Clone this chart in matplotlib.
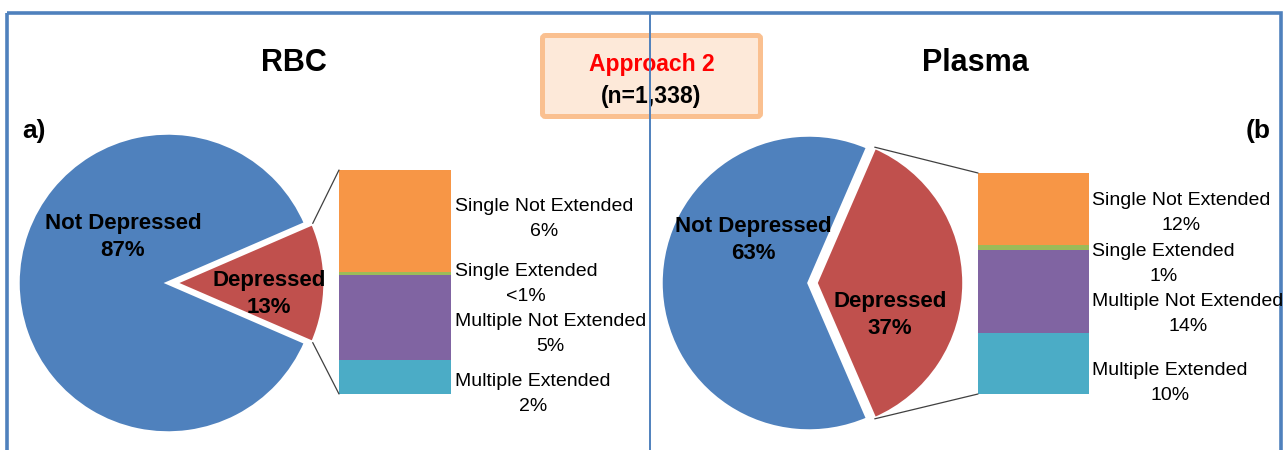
import math
import matplotlib
matplotlib.use("Agg")
import matplotlib.pyplot as plt
from matplotlib.patches import Rectangle, FancyBboxPatch, ConnectionPatch

plt.rcParams['font.family'] = ['Liberation Sans', 'DejaVu Sans']

W, H = 1287, 450

# ---------------- data ----------------
titles = ["RBC", "Plasma"]
panel_tags = ["a)", "(b"]
pie_labels = ["Depressed", "Not Depressed"]
rbc_pie = [13, 87]
plasma_pie = [37, 63]
pie_text_rbc = ["13%", "87%"]
pie_text_plasma = ["37%", "63%"]
sub_labels = ["Single Not Extended", "Single Extended",
              "Multiple Not Extended", "Multiple Extended"]
rbc_sub = [5.9, 0.2, 4.9, 2.0]
plasma_sub = [12.1, 0.8, 13.9, 10.2]
rbc_sub_text = ["6%", "<1%", "5%", "2%"]
plasma_sub_text = ["12%", "1%", "14%", "10%"]
box_title = "Approach 2"
box_sub = "(n=1,338)"

# ---------------- styles ----------------
BLUE = '#4F81BD'
RED = '#C0504D'
sub_colors = ['#F79646', '#9BBB59', '#8064A2', '#4BACC6']

# layout (pixels from top-left)
panels = [
    dict(title=titles[0], tag=panel_tags[0], pie=rbc_pie, pie_text=pie_text_rbc,
         sub=rbc_sub, sub_text=rbc_sub_text,
         center=(168, 283), R=150, bar=(339, 170, 112, 224),
         title_xy=(294, 63), tag_xy=(34, 131), tag_ha='center',
         pie_lab_xy=[(269, 294), (123, 237)],
         sub_lab_x=455, sub_lab_y=[219, 284, 334, 394]),
    dict(title=titles[1], tag=panel_tags[1], pie=plasma_pie, pie_text=pie_text_plasma,
         sub=plasma_sub, sub_text=plasma_sub_text,
         center=(809, 283), R=148, bar=(978, 173, 111, 221),
         title_xy=(975, 63), tag_xy=(1258, 131), tag_ha='center',
         pie_lab_xy=[(890, 315), (753, 240)],
         sub_lab_x=1092, sub_lab_y=[213, 264, 314, 383]),
]

fig = plt.figure(figsize=(W / 100, H / 100), dpi=100)
canvas = fig.add_axes([0, 0, 1, 1])
canvas.set_xlim(0, W)
canvas.set_ylim(H, 0)
canvas.axis('off')


def px_axes(left, top, width, height):
    return fig.add_axes([left / W, 1 - (top + height) / H, width / W, height / H])


# outer frame
canvas.add_patch(Rectangle((7, 13), 1274, 500, fill=False, edgecolor=BLUE,
                           linewidth=2.6, zorder=1))

for p in panels:
    cx, cy = p['center']
    R = p['R']
    pad = 1.15
    pax = px_axes(cx - R * pad, cy - R * pad, 2 * R * pad, 2 * R * pad)
    vals = p['pie']
    wedges, _ = pax.pie(vals, colors=[RED, BLUE], explode=[0.047, 0],
                        startangle=-vals[0] / sum(vals) * 180, counterclock=True,
                        radius=1, wedgeprops=dict(edgecolor='white', linewidth=2.5))
    pax.set_xlim(-pad, pad)
    pax.set_ylim(-pad, pad)
    pax.axis('off')

    bl, bt, bw, bh = p['bar']
    bax = px_axes(bl, bt, bw, bh)
    sub = p['sub']
    total = sum(sub)
    top = total
    for v, c in zip(sub, sub_colors):
        bax.bar(0.5, v, width=1, bottom=top - v, color=c, linewidth=0)
        top -= v
    bax.set_xlim(0, 1)
    bax.set_ylim(0, total)
    bax.axis('off')

    # connector lines
    w = wedges[0]
    wc = w.center
    for ang, ybar in [(w.theta2, total), (w.theta1, 0)]:
        x = wc[0] + w.r * math.cos(math.radians(ang))
        y = wc[1] + w.r * math.sin(math.radians(ang))
        con = ConnectionPatch(xyA=(0, ybar), coordsA=bax.transData,
                              xyB=(x, y), coordsB=pax.transData,
                              color='#404040', linewidth=0.9)
        con.set_clip_on(False)
        fig.add_artist(con)

# overlay for all text
over = fig.add_axes([0, 0, 1, 1])
over.set_xlim(0, W)
over.set_ylim(H, 0)
over.axis('off')
over.patch.set_alpha(0)

for p in panels:
    over.text(*p['title_xy'], p['title'], ha='center', va='center',
              fontsize=22, fontweight='bold')
    over.text(*p['tag_xy'], p['tag'], ha=p['tag_ha'], va='center',
              fontsize=19, fontweight='bold')
    for (lx, ly), lab, pct in zip(p['pie_lab_xy'], pie_labels, p['pie_text']):
        over.text(lx, ly, f"{lab}\n{pct}", ha='center', va='center',
                  multialignment='center', fontsize=16, fontweight='bold',
                  linespacing=1.32)
    for ly, lab, pct in zip(p['sub_lab_y'], sub_labels, p['sub_text']):
        over.text(p['sub_lab_x'], ly, f"{lab}\n{pct}", ha='left', va='center',
                  multialignment='center', fontsize=14, linespacing=1.58)

# approach box
canvas.add_patch(FancyBboxPatch((542.5, 35.5), 218, 81,
                                boxstyle='round,pad=0,rounding_size=3',
                                facecolor='#FDE9D9', edgecolor='#FAC090',
                                linewidth=3.6, zorder=2))
canvas.text(651.5, 64, box_title, ha='center', va='center', color='#FF0000',
            fontsize=16.5, fontweight='bold', zorder=3)
canvas.text(651, 96, box_sub, ha='center', va='center', color='black',
            fontsize=16.5, fontweight='bold', zorder=3)

# divider line
canvas.plot([650, 650], [13, H], color=BLUE, linewidth=1.4, zorder=4)

fig.savefig('out.png', dpi=100)
